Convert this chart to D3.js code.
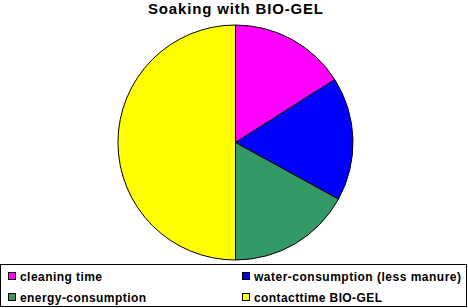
<!DOCTYPE html>
<html>
<head>
<meta charset="utf-8">
<script src="https://cdn.jsdelivr.net/npm/d3@7"></script>
<style>
  body { margin: 0; background: #fff; }
  text { font-family: "Liberation Sans", Arial, sans-serif; font-weight: bold; }
</style>
</head>
<body>
<svg id="chart" width="468" height="308"></svg>
<script>
var categories = ["cleaning time", "water-consumption (less manure)", "energy-consumption", "contacttime BIO-GEL"];
var values = [16, 17, 17, 50];
var colors = ["#ff00ff", "#0000ff", "#339966", "#ffff00"];
var title = "Soaking with BIO-GEL";

var svg = d3.select("svg#chart"),
    width = +svg.attr("width"),
    height = +svg.attr("height"),
    cx = 235.5, cy = 142.5, radius = 117.5;

var data = categories.map(function(c, i) { return {name: c, value: values[i]}; });

var color = d3.scaleOrdinal()
    .domain(categories)
    .range(colors);

var pie = d3.pie()
    .sort(null)
    .value(function(d) { return d.value; });

var arc = d3.arc()
    .innerRadius(0)
    .outerRadius(radius);

svg.append("text")
    .attr("x", cx)
    .attr("y", 14)
    .attr("text-anchor", "middle")
    .attr("font-size", 15)
    .attr("textLength", 175)
    .attr("fill", "#000")
    .text(title);

svg.append("g")
    .attr("transform", "translate(" + cx + "," + cy + ")")
  .selectAll("path")
  .data(pie(data))
  .enter().append("path")
    .attr("d", arc)
    .attr("fill", function(d) { return color(d.data.name); })
    .attr("stroke", "#000")
    .attr("stroke-width", 1);

// legend box
svg.append("rect")
    .attr("x", 0.5)
    .attr("y", 264.5)
    .attr("width", 466)
    .attr("height", 42)
    .attr("fill", "#fff")
    .attr("stroke", "#000");

var legendX = [8, 242],
    legendY = [272, 293],
    textLens = [82, 207, 126, 128];

var legend = svg.append("g")
  .selectAll("g")
  .data(categories)
  .enter().append("g")
    .attr("transform", function(d, i) {
      return "translate(" + legendX[i % 2] + "," + legendY[Math.floor(i / 2)] + ")";
    });

legend.append("rect")
    .attr("x", 0.5)
    .attr("y", 0.5)
    .attr("width", 7)
    .attr("height", 7)
    .attr("fill", function(d) { return color(d); })
    .attr("stroke", "#000");

legend.append("text")
    .attr("x", 12)
    .attr("y", 8.5)
    .attr("font-size", 12)
    .attr("textLength", function(d, i) { return textLens[i]; })
    .attr("fill", "#000")
    .text(function(d) { return d; });
</script>
</body>
</html>
